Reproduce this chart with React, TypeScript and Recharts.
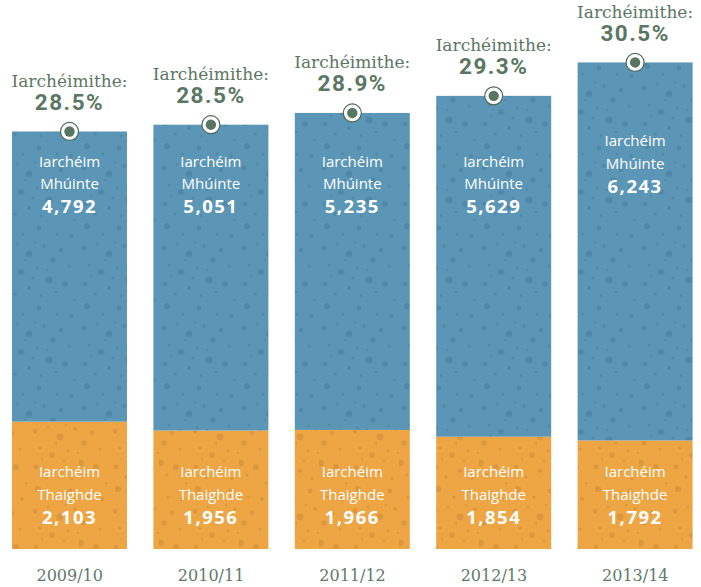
import React from 'react';
import { BarChart, Bar, XAxis, YAxis } from 'recharts';

const categories = ['2009/10', '2010/11', '2011/12', '2012/13', '2013/14'];
const teaching = [4792, 5051, 5235, 5629, 6243];
const research = [2103, 1956, 1966, 1854, 1792];
const percentages = [28.5, 28.5, 28.9, 29.3, 30.5];

const data = categories.map((year, i) => ({
  year,
  research: research[i],
  teaching: teaching[i],
  pct: percentages[i],
}));

const BLUE = '#5b96b6';
const BLUE_DOT = '#4a7f9e';
const ORANGE = '#eea544';
const ORANGE_DOT = '#cf8d38';
const GREEN = '#5b7763';
const AXIS = '#627869';
const SERIF = '"DejaVu Serif", serif';
const SANS = '"Open Sans", sans-serif';

const dots: [number, number, number][] = [
  [5, 8, 2.4], [18, 4, 1.4], [30, 14, 3.4], [45, 6, 1.8], [54, 20, 2.6], [10, 25, 1.5],
  [22, 32, 2.8], [38, 28, 1.4], [50, 40, 3.6], [6, 44, 2.3], [16, 54, 1.7], [30, 48, 2.1],
  [42, 56, 1.4], [57, 52, 1.6], [26, 20, 1.2], [48, 30, 1.2], [34, 38, 1.6], [12, 36, 1.1],
  [62, 10, 2.2], [70, 26, 1.5], [66, 44, 2.9], [76, 60, 1.3], [8, 66, 3.1], [24, 74, 1.6],
  [40, 68, 2.4], [58, 74, 1.4], [72, 76, 2], [36, 2, 1.2],
];

const fmt = (v: number) => v.toLocaleString('en-US');

const ResearchShape = (props: any) => {
  const { x, y, width, height, payload } = props;
  const cx = x + width / 2;
  const bottom = y + height;
  return (
    <g>
      <rect x={x} y={y} width={width} height={height} fill="url(#dotsOrange)" />
      <text x={cx} y={bottom - 72.5} textAnchor="middle" fill="#fff" fontSize={15} fontFamily={SANS}>Iarchéim</text>
      <text x={cx} y={bottom - 49.5} textAnchor="middle" fill="#fff" fontSize={15} fontFamily={SANS}>Thaighde</text>
      <text x={cx} y={bottom - 25.5} textAnchor="middle" fill="#fff" fontSize={18.5} fontWeight={700} letterSpacing={1.5} fontFamily={SANS}>{fmt(payload.research)}</text>
    </g>
  );
};

const TeachingShape = (props: any) => {
  const { x, y, width, height, payload } = props;
  const cx = x + width / 2;
  const line1 = Math.min(166.5, y + 84);
  return (
    <g>
      <rect x={x} y={y} width={width} height={height} fill="url(#dotsBlue)" />
      <text x={cx} y={line1} textAnchor="middle" fill="#fff" fontSize={15} fontFamily={SANS}>Iarchéim</text>
      <text x={cx} y={line1 + 22.5} textAnchor="middle" fill="#fff" fontSize={15} fontFamily={SANS}>Mhúinte</text>
      <text x={cx} y={line1 + 46.5} textAnchor="middle" fill="#fff" fontSize={18.5} fontWeight={700} letterSpacing={1.5} fontFamily={SANS}>{fmt(payload.teaching)}</text>
      <text x={cx} y={y - 44.5} textAnchor="middle" fill={GREEN} fontSize={17} fontFamily={SERIF}>Iarchéimithe:</text>
      <text x={cx} y={y - 21.5} textAnchor="middle" fill={GREEN} fontSize={22.5} fontWeight={700} letterSpacing={1.5} fontFamily="Roboto, sans-serif">{`${payload.pct.toFixed(1)}%`}</text>
      <circle cx={cx} cy={y} r={9} fill="#fff" stroke="#4d6a57" strokeWidth={1.2} />
      <circle cx={cx} cy={y} r={5.2} fill="#587661" />
    </g>
  );
};

const Tick = (props: any) => {
  const { x, y, payload } = props;
  return (
    <text x={x} y={y} dy={24} textAnchor="middle" fill={AXIS} fontSize={16} fontFamily={SERIF}>
      {payload.value}
    </text>
  );
};

export default function App() {
  return (
    <div style={{ position: 'fixed', left: 0, top: 0, width: 701, height: 587, overflow: 'hidden', background: '#fff' }}>
      <div style={{ position: 'absolute', left: -1, top: 0 }}>
        <BarChart width={707} height={587} data={data} margin={{ top: 4, right: 0, bottom: 0, left: 0 }}>
          <defs>
            <pattern id="dotsBlue" width={80} height={80} patternUnits="userSpaceOnUse">
              <rect width={80} height={80} fill={BLUE} />
              {dots.map(([cx, cy, r], i) => (
                <circle key={i} cx={cx} cy={cy} r={r} fill={BLUE_DOT} opacity={0.6} />
              ))}
            </pattern>
            <pattern id="dotsOrange" width={80} height={80} patternUnits="userSpaceOnUse">
              <rect width={80} height={80} fill={ORANGE} />
              {dots.map(([cx, cy, r], i) => (
                <circle key={i} cx={(cx + 31) % 80} cy={(cy + 23) % 80} r={r} fill={ORANGE_DOT} opacity={0.6} />
              ))}
            </pattern>
          </defs>
          <XAxis dataKey="year" height={38} axisLine={false} tickLine={false} tick={<Tick />} interval={0} />
          <YAxis hide domain={[0, 9000]} />
          <Bar dataKey="research" stackId="a" barSize={115} fill={ORANGE} shape={<ResearchShape />} isAnimationActive={false} />
          <Bar dataKey="teaching" stackId="a" barSize={115} fill={BLUE} shape={<TeachingShape />} isAnimationActive={false} />
        </BarChart>
      </div>
    </div>
  );
}
